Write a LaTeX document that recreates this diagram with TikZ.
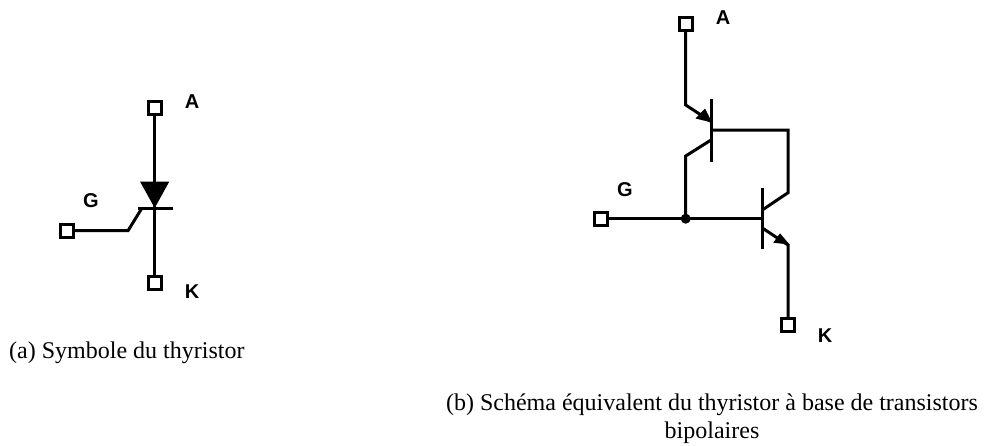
\documentclass[tikz,border=0pt]{standalone}
\usepackage{fontspec}
\setmainfont{Liberation Serif}
\newfontfamily\lblfont{Liberation Sans}
\usetikzlibrary{arrows.meta}
\tikzset{
  term/.style={draw=black,fill=white,line width=3pt,minimum size=13pt,inner sep=0pt,outer sep=0pt},
  wire/.style={draw=black,line width=3pt,line join=miter},
  termlabel/.style={font=\lblfont\bfseries\fontsize{20}{20}\selectfont,inner sep=0pt,text=black},
  caption/.style={font=\fontsize{24}{27.6}\selectfont,inner sep=0pt,text=black,align=center},
}
\begin{document}
\begin{tikzpicture}[x=1pt,y=-1pt]
\useasboundingbox (0,0) rectangle (987,445);
% (a) thyristor symbol
\node[term] (a1) at (154.7,108.3) {};
\node[term] (k1) at (154.7,282.7) {};
\node[term] (g1) at (67,230.7) {};
\coordinate (apex) at (154.7,208);
\coordinate (barL) at (138,208);
\coordinate (barR) at (173,208);
\coordinate (gbar) at (142,208);
\coordinate (gknee) at (128,230.7);
\draw[wire] (a1) -- (apex);
\draw[wire] (apex) -- (k1);
\draw[wire] (barL) -- (barR);
\draw[wire] (g1) -- (gknee) -- (gbar);
\fill[black] (140,181.5) -- (169.3,181.5) -- (apex) -- cycle;
\node[termlabel] (la1) at (192,102) {A};
\node[termlabel] (lk1) at (192,292) {K};
\node[termlabel] (lg1) at (91,201) {G};
\node[caption,anchor=west] (cap1) at (9,353) {(a) Symbole du thyristor};
% (b) equivalent circuit
\node[term] (a2) at (685.7,24) {};
\node[term] (g2) at (601,218.7) {};
\node[term] (k2) at (788,325) {};
\coordinate (e1knee) at (685.7,105);
\coordinate (e1) at (711,121.5);
\coordinate (b1top) at (711,99);
\coordinate (b1bot) at (711,161.7);
\coordinate (b1mid) at (711,130);
\coordinate (c1) at (711,140);
\coordinate (c1knee) at (685.7,156);
\coordinate (topR) at (788,130);
\coordinate (c2knee) at (788,192.7);
\coordinate (c2) at (762.3,210);
\coordinate (b2top) at (762.3,187.7);
\coordinate (b2bot) at (762.3,249.3);
\coordinate (b2mid) at (762.3,218.7);
\coordinate (e2) at (762.3,228);
\coordinate (e2knee) at (788,245);
\coordinate (jct) at (685.7,218.7);
\draw[wire] (a2) -- (e1knee) -- (e1);
\fill[black] (695.5,118.5) -- (705,108.5) -- (712,122.5) -- cycle;
\draw[wire] (b1top) -- (b1bot);
\draw[wire] (b1mid) -- (topR) -- (c2knee) -- (c2);
\draw[wire] (c1) -- (c1knee) -- (jct);
\draw[wire] (g2) -- (b2mid);
\draw[wire] (b2top) -- (b2bot);
\draw[wire] (e2) -- (e2knee) -- (k2);
\fill[black] (773.3,242.7) -- (780,233.3) -- (789.5,244.5) -- cycle;
\fill[black] (jct) circle (5pt);
\node[termlabel] (la2) at (723,18) {A};
\node[termlabel] (lk2) at (825,336) {K};
\node[termlabel] (lg2) at (625,190) {G};
\node[caption] (cap2) at (712,419) {(b) Schéma équivalent du thyristor à base de transistors\\bipolaires};
\end{tikzpicture}
\end{document}
